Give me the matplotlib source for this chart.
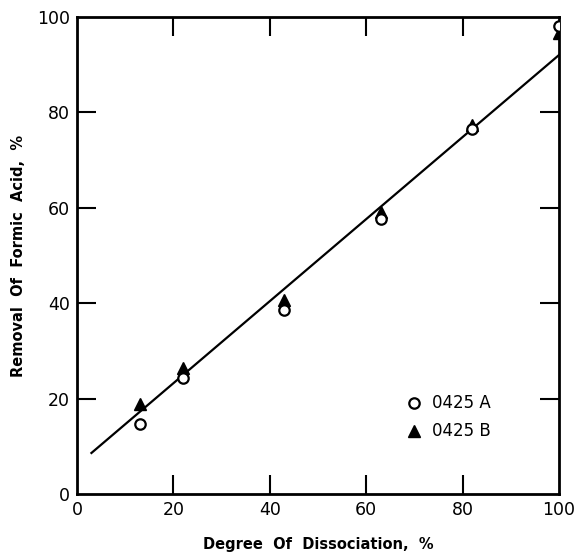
import matplotlib
matplotlib.use("Agg")
import matplotlib.pyplot as plt

dissoc = [13, 22, 43, 63, 82, 100]
removal_a = [14.7, 24.4, 38.5, 57.7, 76.5, 98.0]
removal_b = [18.8, 26.4, 40.6, 59.1, 77.4, 96.6]
fit_x = [3, 100]
fit_y = [8.6, 92.0]
ticks = [0, 20, 40, 60, 80, 100]

plt.rcParams["font.family"] = ["DejaVu Sans"]

fig = plt.figure(figsize=(5.78, 5.58), dpi=100)
ax = fig.add_axes([0.1332, 0.1147, 0.8338, 0.855])

ax.plot(fit_x, fit_y, color="black", linewidth=1.6, zorder=1)
ax.plot(dissoc, removal_a, linestyle="none", marker="o", markersize=7.5,
        markerfacecolor="white", markeredgecolor="black", markeredgewidth=1.6,
        label="0425 A", zorder=3)
ax.plot(dissoc, removal_b, linestyle="none", marker="^", markersize=8,
        color="black", label="0425 B", zorder=2)

ax.set_xlim(0, 100)
ax.set_ylim(0, 100)
ax.set_xticks(ticks)
ax.set_yticks(ticks)
ax.tick_params(direction="in", length=14, width=1.5, labelsize=12.5,
               top=True, right=True, pad=5)
# no tick marks at the corners, only labels
for axis in (ax.xaxis, ax.yaxis):
    tks = axis.get_major_ticks()
    for t in (tks[0], tks[-1]):
        t.tick1line.set_visible(False)
        t.tick2line.set_visible(False)
for s in ax.spines.values():
    s.set_linewidth(2)

ax.set_xlabel("Degree  Of  Dissociation,  %", fontsize=10.5, fontweight="bold",
              labelpad=13)
ax.set_ylabel("Removal  Of  Formic  Acid,  %", fontsize=10.5, fontweight="bold",
              labelpad=8)

ax.legend(loc="upper left", bbox_to_anchor=(0.65, 0.24), frameon=False,
          fontsize=12, handletextpad=0.6, labelspacing=0.6, handlelength=1.0)

fig.savefig("out.png", dpi=100)
